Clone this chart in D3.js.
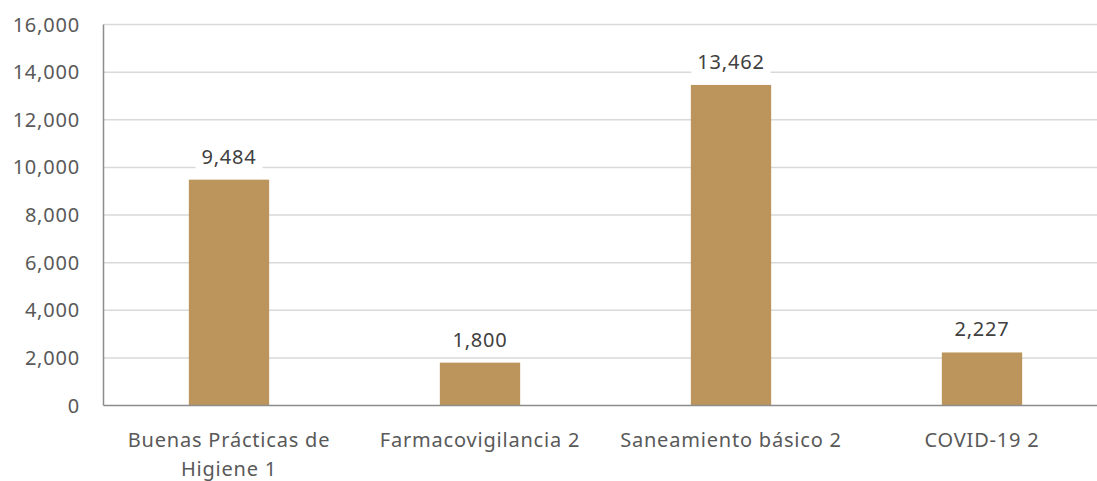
<!DOCTYPE html>
<html>
<head>
<meta charset="utf-8">
<script src="https://cdn.jsdelivr.net/npm/d3@7"></script>
<style>
  body { margin: 0; background: #fff; }
  svg { display: block; font-family: "Noto Sans", sans-serif; }
  .grid line { stroke: #d9d9d9; stroke-width: 1.5; }
  .tick-label { fill: #595959; font-size: 20px; letter-spacing: 0.8px; }
  .cat-label { fill: #595959; font-size: 20px; letter-spacing: 0.8px; }
  .val-label { fill: #404040; font-size: 20px; letter-spacing: 0.8px; }
</style>
</head>
<body>
<div id="chart"></div>
<script>
// --- data ---
const categories = ["Buenas Prácticas de Higiene 1", "Farmacovigilancia 2", "Saneamiento básico 2", "COVID-19 2"];
const categoryLines = [["Buenas Prácticas de", "Higiene 1"], ["Farmacovigilancia 2"], ["Saneamiento básico 2"], ["COVID-19 2"]];
const values = [9484, 1800, 13462, 2227];
const yTicks = [0, 2000, 4000, 6000, 8000, 10000, 12000, 14000, 16000];

const W = 1097, H = 481;
const margin = { left: 103.5, top: 24.5, bottom: 75.5 };
const plotRight = 1107.5;

const svg = d3.select("#chart").append("svg").attr("width", W).attr("height", H);

const x = d3.scaleBand().domain(categories).range([margin.left, plotRight]).paddingInner(0.68).paddingOuter(0.34);
const y = d3.scaleLinear().domain([0, 16000]).range([H - margin.bottom, margin.top]);
const fmt = d3.format(",");

// gridlines
svg.append("g").attr("class", "grid")
  .selectAll("line").data(yTicks.filter(d => d > 0)).join("line")
  .attr("x1", margin.left).attr("x2", W)
  .attr("y1", d => y(d)).attr("y2", d => y(d));

// y tick labels
svg.append("g").selectAll("text").data(yTicks).join("text")
  .attr("class", "tick-label")
  .attr("x", 80).attr("y", d => y(d)).attr("dy", "0.35em")
  .attr("text-anchor", "end")
  .text(d => fmt(d));

// bars
svg.append("g").selectAll("rect").data(values).join("rect")
  .attr("x", (d, i) => x(categories[i]))
  .attr("width", x.bandwidth())
  .attr("y", d => y(d))
  .attr("height", d => y(0) - y(d))
  .attr("fill", "#bc955c");

// axes lines
svg.append("line").attr("x1", margin.left).attr("x2", W)
  .attr("y1", y(0)).attr("y2", y(0)).attr("stroke", "#8c8c8c").attr("stroke-width", 1.5);
svg.append("line").attr("x1", margin.left).attr("x2", margin.left)
  .attr("y1", y(16000)).attr("y2", y(0)).attr("stroke", "#8c8c8c").attr("stroke-width", 1.5);

// value labels with white background
const vl = svg.append("g").selectAll("g").data(values).join("g")
  .attr("transform", (d, i) => `translate(${x(categories[i]) + x.bandwidth() / 2},${y(d) - 16})`);
vl.append("rect").attr("class", "bg").attr("fill", "#fff");
vl.append("text").attr("class", "val-label").attr("text-anchor", "middle").text(d => fmt(d));
vl.each(function () {
  const t = d3.select(this).select("text").node().getBBox();
  d3.select(this).select("rect")
    .attr("x", t.x - 6).attr("y", t.y - 2).attr("width", t.width + 12).attr("height", t.height + 4);
});

// category labels
const cl = svg.append("g").selectAll("text").data(categories).join("text")
  .attr("class", "cat-label")
  .attr("text-anchor", "middle")
  .attr("x", d => x(d) + x.bandwidth() / 2)
  .attr("y", 447);
cl.selectAll("tspan").data((d, i) => categoryLines[i]).join("tspan")
  .attr("x", function () { return d3.select(this.parentNode).attr("x"); })
  .attr("dy", (d, i) => i === 0 ? 0 : 29)
  .text(d => d);
</script>
</body>
</html>
